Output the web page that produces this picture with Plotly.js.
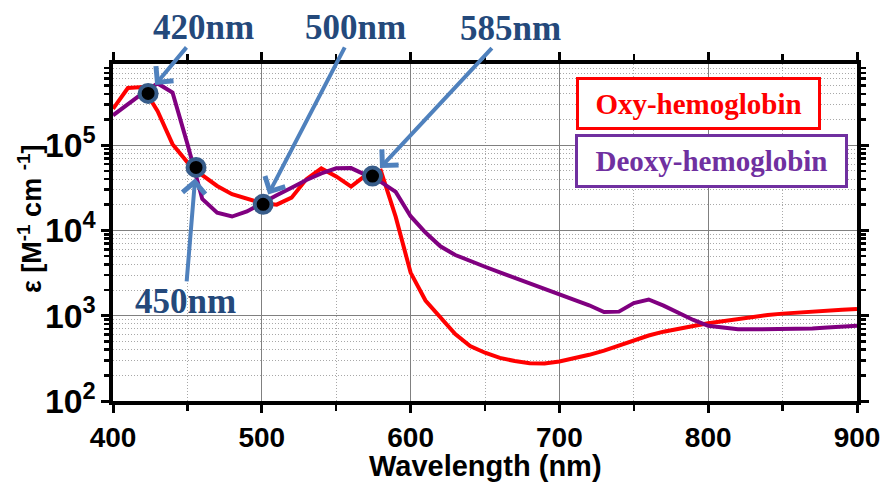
<!DOCTYPE html>
<html>
<head>
<meta charset="utf-8">
<script src="https://cdn.plot.ly/plotly-3.0.1.min.js"></script>
<style>html,body{margin:0;padding:0;background:#fff;}#chart{width:883px;height:482px;}</style>
</head>
<body>
<div id="chart"></div>
<script>
// Wavelength (nm)
var wavelengths = [400,410,420,430,440,450,460,470,480,490,500,510,520,530,540,550,560,570,580,590,600,610,620,630,640,650,660,670,680,690,700,710,720,730,740,750,760,770,780,790,800,810,820,830,840,850,860,870,880,890,900];
// Molar extinction coefficient, oxy-hemoglobin (M^-1 cm^-1)
var oxyHb = [266232,466840,480360,250000,102580,62816,44480,33209,26629,23684,20933,20035,24202,39957,53236,43016,32613,44496,50104,14401,3200,1506,942,610,442,368,320,294,278,276,290,314,348,390,446,518,586,650,710,756,816,864,916,974,1022,1058,1092,1128,1154,1178,1198];
// Molar extinction coefficient, deoxy-hemoglobin (M^-1 cm^-1)
var deoxyHb = [223296,303956,407560,528600,413280,103292,23389,16156,14550,16684,20862,25774,31590,39036,46592,53412,53788,45072,37020,28324,14677,9444,6510,5149,4345,3750,3227,2795,2408,2052,1794,1540,1326,1102,1116,1405,1549,1312,1075,891,762,717,693,693,692,691,694,706,726,744,762];
// Highlighted points
var markerX = [423.6, 455.8, 500.9, 574.4];
var markerY = [404000, 54800, 20200, 43300];
var markerLabels = ['420nm', '450nm', '500nm', '585nm'];
var seriesNames = ['Oxy-hemoglobin', 'Deoxy-hemoglobin'];

// plot area geometry (pixels) for paper-coordinate conversions
var L = 113, R = 857, T = 64, B = 401;
function px(x){ return (x - L) / (R - L); }
function py(y){ return (B - y) / (B - T); }

var traces = [
  {x: wavelengths, y: oxyHb, type: 'scatter', mode: 'lines', name: seriesNames[0],
   line: {color: '#FF0000', width: 4}},
  {x: wavelengths, y: deoxyHb, type: 'scatter', mode: 'lines', name: seriesNames[1],
   line: {color: '#800080', width: 4}},
  {x: markerX, y: markerY, type: 'scatter', mode: 'markers', name: 'points',
   marker: {color: '#000000', size: 17, line: {color: '#385D8A', width: 4}}}
];

var labelFont = {family: 'Liberation Serif, Times New Roman, serif', size: 35, weight: 'bold', color: '#24497B'};
// label offset from its point (pixels)
var labelOff = [[55, -66], [-11, 134], [92, -177], [138, -148]];

var annotations = [];
for (var i = 0; i < markerX.length; i++) {
  annotations.push({x: markerX[i], y: Math.log10(markerY[i]), xref: 'x', yref: 'y',
    text: markerLabels[i], font: labelFont, showarrow: true, ax: labelOff[i][0], ay: labelOff[i][1],
    borderpad: 0, arrowcolor: '#4F81BD', arrowwidth: 4, arrowhead: 4, arrowsize: 1.1, standoff: 11});
}
// legend boxes
annotations.push({x: px(698.5), y: py(103.5), xref: 'paper', yref: 'paper', text: seriesNames[0],
  showarrow: false, font: {family: 'Liberation Serif, Times New Roman, serif', size: 29, weight: 'bold', color: '#FF0000'},
  bordercolor: '#FF0000', borderwidth: 3, borderpad: 0, width: 239, height: 47, bgcolor: '#FFFFFF',
  xanchor: 'center', yanchor: 'middle'});
annotations.push({x: px(711.5), y: py(161), xref: 'paper', yref: 'paper', text: seriesNames[1],
  showarrow: false, font: {family: 'Liberation Serif, Times New Roman, serif', size: 29, weight: 'bold', color: '#7030A0'},
  bordercolor: '#7030A0', borderwidth: 3, borderpad: 0, width: 267, height: 48, bgcolor: '#FFFFFF',
  xanchor: 'center', yanchor: 'middle'});
// axis titles
annotations.push({x: px(30), y: py(219), xref: 'paper', yref: 'paper', textangle: -90,
  text: 'ε [M<sup>-1</sup> cm <sup>-1</sup>]', showarrow: false,
  font: {family: 'Liberation Sans, Arial, sans-serif', size: 27, weight: 'bold', color: '#000'},
  xanchor: 'center', yanchor: 'middle'});
annotations.push({x: px(485), y: py(466), xref: 'paper', yref: 'paper',
  text: 'Wavelength (nm)', showarrow: false,
  font: {family: 'Liberation Sans, Arial, sans-serif', size: 29, weight: 'bold', color: '#000'},
  xanchor: 'center', yanchor: 'middle'});

var xTickFont = {family: 'Liberation Sans, Arial, sans-serif', size: 28, weight: 'bold', color: '#000'};
var yTickFont = {family: 'Liberation Sans, Arial, sans-serif', size: 27, weight: 'bold', color: '#000'};
var minorGrid = {ticks: 'outside', ticklen: 6, tickwidth: 2.5, tickcolor: '#000',
  showgrid: true, gridcolor: '#A8A8A8', griddash: '1px,2px', gridwidth: 1};

var layout = {
  width: 883, height: 482,
  margin: {l: L, r: 883 - R, t: T, b: 482 - B, pad: 0},
  paper_bgcolor: '#FFFFFF', plot_bgcolor: '#FFFFFF',
  showlegend: false,
  xaxis: {range: [400, 900], tick0: 400, dtick: 100, ticks: 'outside', ticklen: 8, tickwidth: 3,
    tickcolor: '#000', showline: true, linewidth: 4, linecolor: '#000', mirror: 'ticks',
    showgrid: true, gridcolor: '#808080', gridwidth: 1, zeroline: false, tickfont: xTickFont,
    minor: Object.assign({dtick: 50}, minorGrid)},
  yaxis: {type: 'log', range: [2, 5.951], dtick: 1, exponentformat: 'power', showexponent: 'all',
    ticks: 'outside', ticklen: 8, tickwidth: 3, tickcolor: '#000', showline: true, linewidth: 4,
    linecolor: '#000', mirror: 'ticks', showgrid: true, gridcolor: '#808080', gridwidth: 1,
    zeroline: false, tickfont: yTickFont,
    minor: Object.assign({dtick: 'D1'}, minorGrid, {ticklen: 5})},
  annotations: annotations
};

Plotly.newPlot('chart', traces, layout, {staticPlot: true, displayModeBar: false});
</script>
</body>
</html>
